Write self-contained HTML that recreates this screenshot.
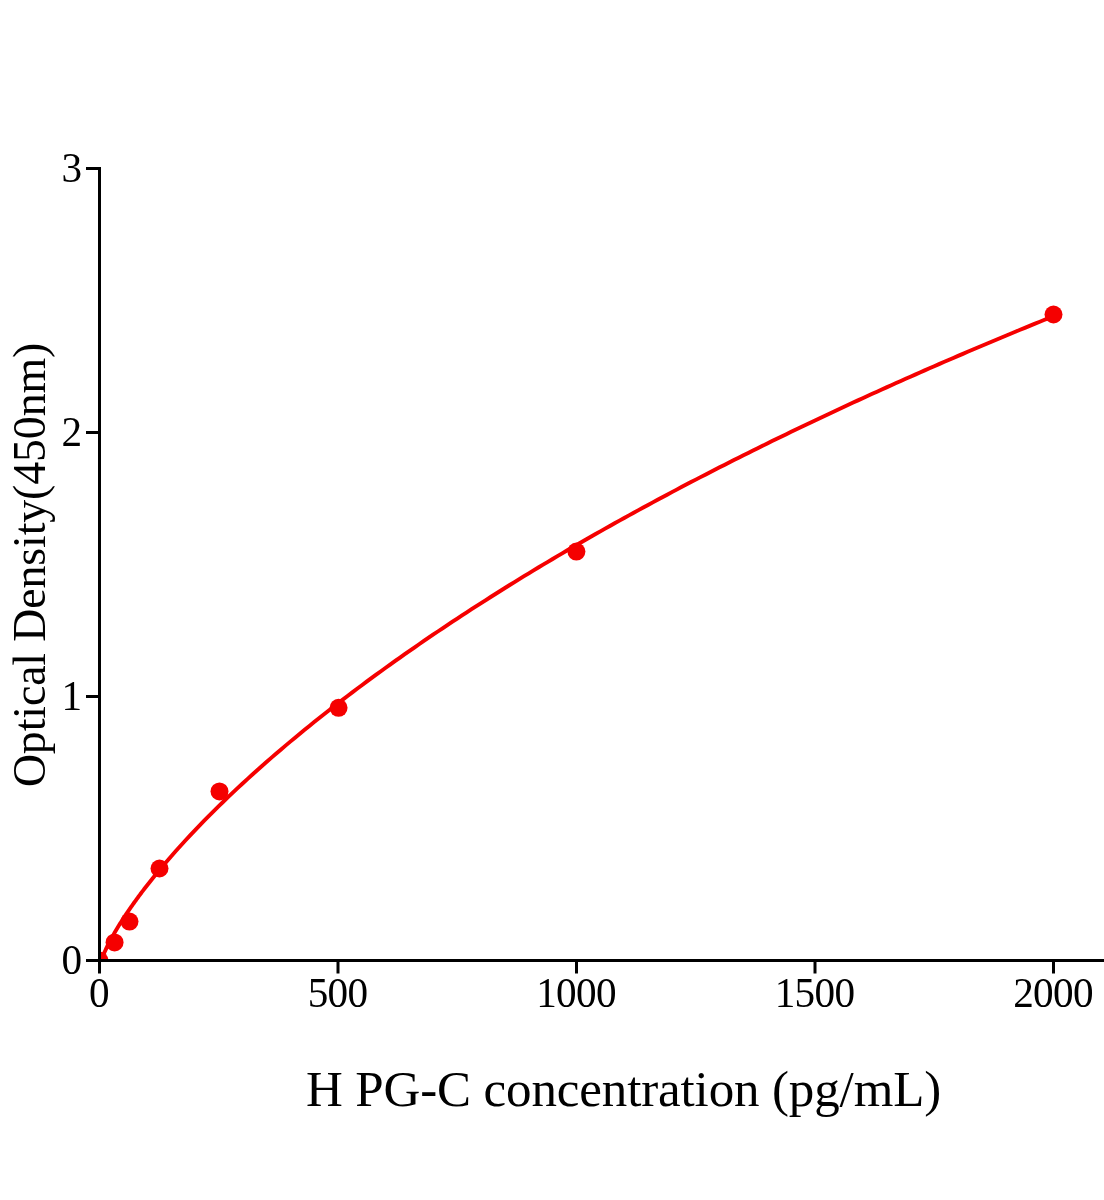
<!DOCTYPE html>
<html><head><meta charset="utf-8"><title>H PG-C standard curve</title>
<style>
html,body{margin:0;padding:0;background:#fff;}
svg{display:block;}
text{font-family:"Liberation Serif","Times New Roman",serif;fill:#000;}
</style></head><body>
<svg width="1104" height="1200" viewBox="0 0 1104 1200">
<rect width="1104" height="1200" fill="#fff"/>
<defs><clipPath id="plot"><rect x="99.5" y="0" width="1100" height="960.5"/></clipPath></defs>
<g clip-path="url(#plot)">
<polyline points="99.50,967.17 100.10,964.26 100.69,962.22 101.29,960.41 101.89,958.74 102.48,957.18 103.08,955.68 103.67,954.24 104.27,952.85 104.87,951.50 105.46,950.19 106.06,948.91 106.66,947.66 107.25,946.43 107.85,945.22 108.44,944.04 109.04,942.87 109.64,941.72 110.23,940.59 110.83,939.48 111.42,938.38 112.02,937.29 112.62,936.21 113.21,935.15 113.81,934.10 114.41,933.06 115.00,932.02 115.60,931.00 116.19,929.99 116.79,928.99 117.39,928.00 117.98,927.01 118.58,926.03 119.18,925.06 119.77,924.10 120.37,923.15 120.97,922.20 121.56,921.26 122.16,920.32 122.75,919.40 123.35,918.47 123.95,917.56 124.54,916.65 125.14,915.74 125.73,914.84 126.33,913.95 126.93,913.06 127.52,912.17 128.12,911.29 128.72,910.42 129.31,909.55 129.91,908.68 130.50,907.82 131.10,906.97 131.70,906.11 132.29,905.27 132.89,904.42 133.49,903.58 134.08,902.75 134.68,901.91 135.28,901.09 135.87,900.26 136.47,899.44 137.06,898.62 137.66,897.81 138.26,897.00 138.85,896.19 139.45,895.39 140.05,894.58 140.64,893.79 141.24,892.99 141.83,892.20 142.43,891.41 143.03,890.63 143.62,889.84 144.22,889.06 144.81,888.29 145.41,887.51 146.01,886.74 146.60,885.97 147.20,885.21 151.97,879.17 156.74,873.29 161.51,867.54 166.28,861.92 171.05,856.41 175.82,851.01 180.59,845.70 185.36,840.49 190.13,835.36 194.90,830.32 199.67,825.35 204.44,820.45 209.21,815.62 213.98,810.86 218.75,806.16 223.52,801.51 228.29,796.93 233.06,792.40 237.83,787.92 242.60,783.49 247.37,779.11 252.14,774.78 256.91,770.49 261.68,766.25 266.45,762.05 271.22,757.88 275.99,753.76 280.76,749.68 285.53,745.63 290.30,741.62 295.07,737.65 299.84,733.71 304.61,729.80 309.38,725.92 314.15,722.08 318.92,718.27 323.69,714.48 328.46,710.73 333.23,707.01 338.00,703.31 342.77,699.64 347.54,696.00 352.31,692.38 357.08,688.79 361.85,685.23 366.62,681.69 371.39,678.17 376.16,674.68 380.93,671.21 385.70,667.76 390.47,664.34 395.24,660.94 400.01,657.56 404.78,654.20 409.55,650.86 414.32,647.54 419.09,644.24 423.86,640.97 428.63,637.71 433.40,634.47 438.17,631.25 442.94,628.05 447.71,624.86 452.48,621.70 457.25,618.55 462.02,615.42 466.79,612.31 471.56,609.21 476.33,606.13 481.10,603.07 485.87,600.03 490.64,597.00 495.41,593.98 500.18,590.98 504.95,588.00 509.72,585.03 514.49,582.08 519.26,579.14 524.03,576.21 528.80,573.31 533.57,570.41 538.34,567.53 543.11,564.66 547.88,561.81 552.65,558.97 557.42,556.14 562.19,553.33 566.96,550.53 571.73,547.74 576.50,544.97 581.27,542.21 586.04,539.47 590.81,536.75 595.58,534.03 600.35,531.33 605.12,528.63 609.89,525.95 614.66,523.29 619.43,520.63 624.20,517.98 628.97,515.35 633.74,512.73 638.51,510.12 643.28,507.52 648.05,504.93 652.82,502.35 657.59,499.78 662.36,497.22 667.13,494.68 671.90,492.14 676.67,489.61 681.44,487.10 686.21,484.59 690.98,482.10 695.75,479.61 700.52,477.13 705.29,474.67 710.06,472.21 714.83,469.76 719.60,467.32 724.37,464.89 729.14,462.48 733.91,460.07 738.68,457.66 743.45,455.27 748.22,452.89 752.99,450.51 757.76,448.15 762.53,445.79 767.30,443.44 772.07,441.11 776.84,438.77 781.61,436.45 786.38,434.14 791.15,431.83 795.92,429.53 800.69,427.25 805.46,424.96 810.23,422.69 815.00,420.43 819.77,418.17 824.54,415.92 829.31,413.68 834.08,411.44 838.85,409.22 843.62,407.00 848.39,404.79 853.16,402.58 857.93,400.39 862.70,398.20 867.47,396.02 872.24,393.85 877.01,391.68 881.78,389.52 886.55,387.37 891.32,385.22 896.09,383.08 900.86,380.95 905.63,378.83 910.40,376.71 915.17,374.60 919.94,372.49 924.71,370.40 929.48,368.31 934.25,366.22 939.02,364.15 943.79,362.08 948.56,360.01 953.33,357.95 958.10,355.90 962.87,353.86 967.64,351.82 972.41,349.79 977.18,347.76 981.95,345.74 986.72,343.73 991.49,341.72 996.26,339.72 1001.03,337.72 1005.80,335.73 1010.57,333.75 1015.34,331.77 1020.11,329.80 1024.88,327.84 1029.65,325.88 1034.42,323.92 1039.19,321.97 1043.96,320.03 1048.73,318.09 1053.50,316.16" fill="none" stroke="#f50000" stroke-width="3.9" stroke-linejoin="round"/>
<g fill="#f50000"><circle cx="99.5" cy="960.5" r="9"/><circle cx="114.57" cy="942.4" r="9"/><circle cx="129.5" cy="921.6" r="9"/><circle cx="159.5" cy="868.5" r="9"/><circle cx="219.5" cy="791.4" r="9"/><circle cx="338.55" cy="707.8" r="9"/><circle cx="576.4" cy="551.6" r="9"/><circle cx="1053.5" cy="314.5" r="9"/></g>
</g>
<g stroke="#000" stroke-width="3" fill="none">
<line x1="99.5" y1="167.0" x2="99.5" y2="962.0"/>
<line x1="86" y1="960.5" x2="1104" y2="960.5"/>
<line x1="99.5" y1="960.5" x2="99.5" y2="973.5"/><line x1="338.0" y1="960.5" x2="338.0" y2="973.5"/><line x1="576.5" y1="960.5" x2="576.5" y2="973.5"/><line x1="815.0" y1="960.5" x2="815.0" y2="973.5"/><line x1="1053.5" y1="960.5" x2="1053.5" y2="973.5"/><line x1="86" y1="960.5" x2="99.5" y2="960.5"/><line x1="86" y1="696.5" x2="99.5" y2="696.5"/><line x1="86" y1="432.5" x2="99.5" y2="432.5"/><line x1="86" y1="168.5" x2="99.5" y2="168.5"/>
</g>
<g font-size="41.2" letter-spacing="-0.7"><text x="99.0" y="1007.2" text-anchor="middle">0</text><text x="337.5" y="1007.2" text-anchor="middle">500</text><text x="576.0" y="1007.2" text-anchor="middle">1000</text><text x="814.5" y="1007.2" text-anchor="middle">1500</text><text x="1053.0" y="1007.2" text-anchor="middle">2000</text><text x="81.4" y="973.9" text-anchor="end">0</text><text x="81.4" y="709.9" text-anchor="end">1</text><text x="81.4" y="445.9" text-anchor="end">2</text><text x="81.4" y="181.9" text-anchor="end">3</text></g>
<text id="xlab" x="623.5" y="1106.2" font-size="51" letter-spacing="-0.13" text-anchor="middle">H PG-C concentration (pg/mL)</text>
<text id="ylab" transform="translate(45.3,565) rotate(-90)" font-size="45.8" letter-spacing="-0.1" text-anchor="middle">Optical Density(450nm)</text>
</svg>
</body></html>
